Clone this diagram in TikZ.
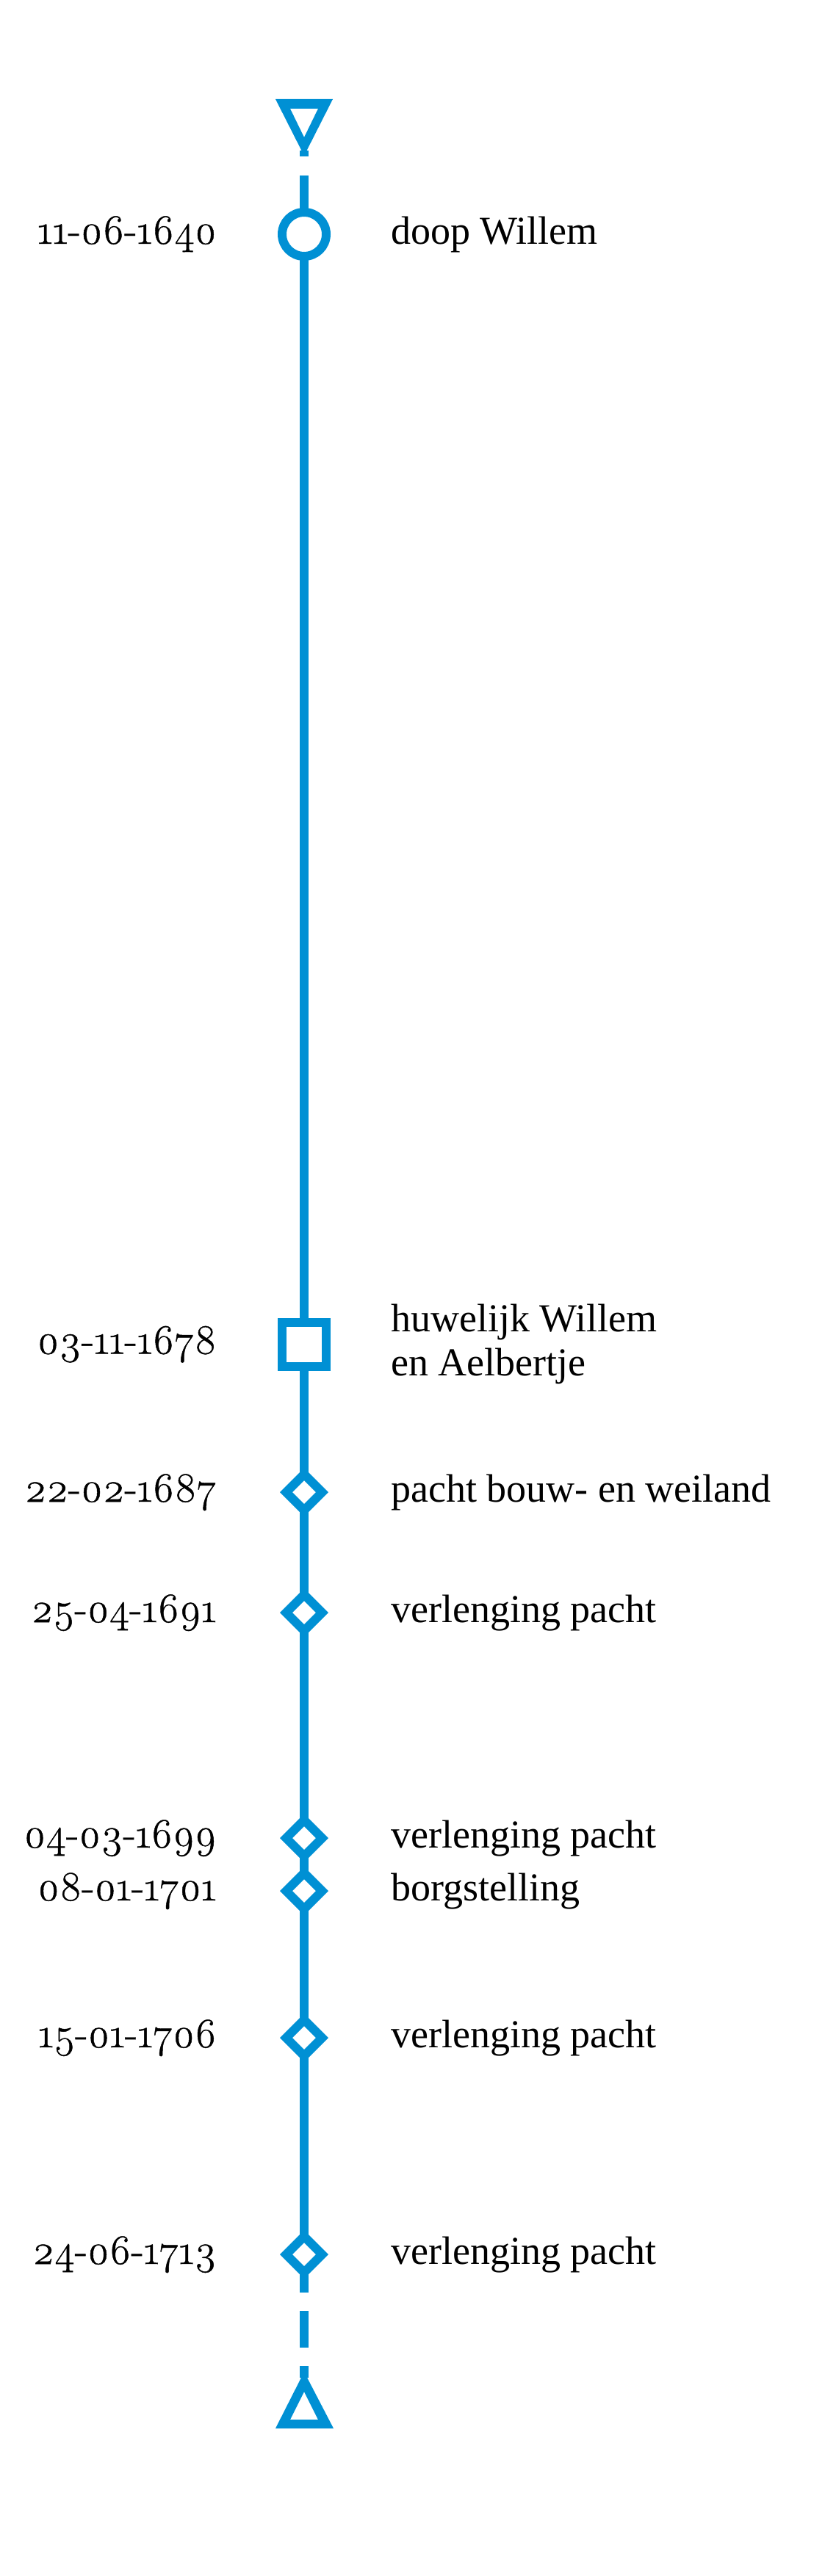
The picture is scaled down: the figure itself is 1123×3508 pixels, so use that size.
\documentclass[tikz,border=0pt]{standalone}
\usepackage{fontspec}
\setmainfont{Liberation Serif}
\newfontfamily\datefont{Latin Modern Roman}[Numbers=OldStyle, RawFeature={embolden=0.8}]
\usetikzlibrary{shapes.geometric,backgrounds}
\definecolor{tlblue}{RGB}{0,144,212}
\tikzset{
  tl/.style={draw=tlblue, line width=12pt, line cap=butt},
  marker/.style={draw=tlblue, fill=white, line width=12pt, inner sep=0pt, outer sep=0pt},
  circmark/.style={marker, circle, minimum size=60pt},
  sqmark/.style={marker, rectangle, minimum size=60pt},
  diamark/.style={marker, diamond, minimum width=49pt, minimum height=49pt},
  datetxt/.style={anchor=base east, inner sep=0pt, font=\datefont\fontsize{57}{60}\selectfont},
  labeltxt/.style={anchor=base west, inner sep=0pt, align=left, font=\fontsize{54}{60}\selectfont},
}
\begin{document}
\begin{tikzpicture}[x=1pt, y=-1pt]
\useasboundingbox (0,0) rectangle (1123,3508);

% top and bottom triangles
\fill[tlblue, even odd rule] (375,135) -- (453,135) -- (414,212) -- cycle
  (395,148) -- (433,148) -- (414,187) -- cycle;
\coordinate (ttip) at (414,205);
\fill[tlblue, even odd rule] (375,3307) -- (454,3307) -- (414,3230) -- cycle
  (395,3295) -- (433,3295) -- (414,3257) -- cycle;
\coordinate (btip) at (414,3238);

% markers
\node[circmark] (e1) at (414,319) {};
\node[sqmark]   (e2) at (414,1830.5) {};
\node[diamark]  (e3) at (414,2032) {};
\node[diamark]  (e4) at (414,2196) {};
\node[diamark]  (e5) at (414,2503) {};
\node[diamark]  (e6) at (414,2575) {};
\node[diamark]  (e7) at (414,2775) {};
\node[diamark]  (e8) at (414,3070) {};

% dates
\node[datetxt] (d1) at (295,332) {11-06-1640};
\node[datetxt] (d2) at (295,1843.5) {03-11-1678};
\node[datetxt] (d3) at (295,2045) {22-02-1687};
\node[datetxt] (d4) at (295,2209) {25-04-1691};
\node[datetxt] (d5) at (295,2516) {04-03-1699};
\node[datetxt] (d6) at (295,2588) {08-01-1701};
\node[datetxt] (d7) at (295,2788) {15-01-1706};
\node[datetxt] (d8) at (295,3083) {24-06-1713};

% labels
\node[labeltxt] (l1) at (532,332) {doop Willem};
\node[labeltxt, anchor=west] (l2) at (532,1830.5) {huwelijk Willem\\en Aelbertje};
\node[labeltxt] (l3) at (532,2045) {pacht bouw- en weiland};
\node[labeltxt] (l4) at (532,2209) {verlenging pacht};
\node[labeltxt] (l5) at (532,2516) {verlenging pacht};
\node[labeltxt] (l6) at (532,2588) {borgstelling};
\node[labeltxt] (l7) at (532,2788) {verlenging pacht};
\node[labeltxt] (l8) at (532,3083) {verlenging pacht};

% connectors behind markers
\begin{pgfonlayer}{background}
\draw[tl, dash pattern=on 80pt off 26pt on 50pt off 25pt] (e1.center) -- (ttip);
\draw[tl] (e1.center) -- (e2.center);
\draw[tl] (e2.center) -- (e3.center);
\draw[tl] (e3.center) -- (e4.center);
\draw[tl] (e4.center) -- (e5.center);
\draw[tl] (e5.center) -- (e6.center);
\draw[tl] (e6.center) -- (e7.center);
\draw[tl] (e7.center) -- (e8.center);
\draw[tl, dash pattern=on 52pt off 25pt on 50pt off 25pt] (e8.center) -- (btip);
\end{pgfonlayer}
\end{tikzpicture}
\end{document}
